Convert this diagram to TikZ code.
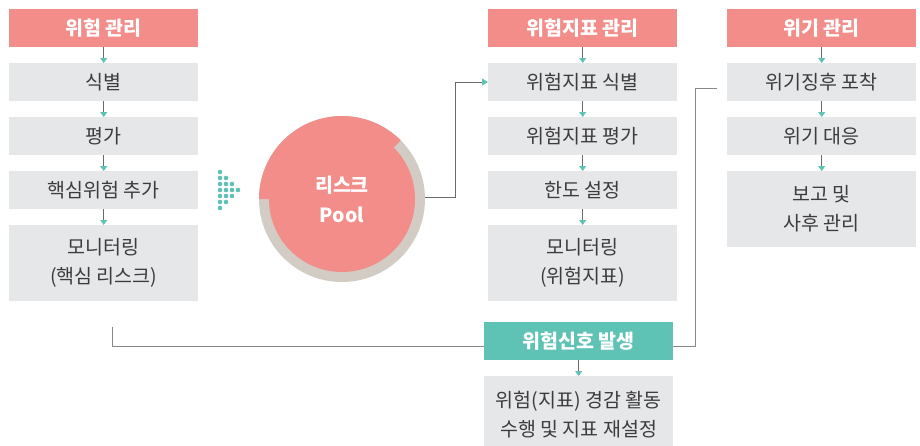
\documentclass[tikz,border=0pt]{standalone}
\usepackage{fontspec}
\newfontfamily\cjk{Noto Sans CJK KR}
\usetikzlibrary{arrows.meta}
\definecolor{hdpink}{HTML}{F28D89}
\definecolor{boxgray}{HTML}{E6E7E9}
\definecolor{tealc}{HTML}{5EC3B5}
\definecolor{ringgray}{HTML}{D2CCC4}
\definecolor{txt}{HTML}{3C3C3C}
\definecolor{linec}{HTML}{6A6A6A}
\tikzset{
  basebox/.style={anchor=north west, inner sep=0pt, minimum width=189pt, align=center,
    font=\cjk\fontsize{19.5}{29}\selectfont},
  hdbox/.style={basebox, fill=hdpink, text=white, minimum height=38pt, font=\cjk\bfseries\fontsize{19.5}{29}\selectfont},
  grbox/.style={basebox, fill=boxgray, text=txt, minimum height=38pt},
  tallbox/.style={grbox, minimum height=76pt},
  sigbox/.style={hdbox, fill=tealc},
  flow/.style={draw=linec, line width=0.8pt, -{Triangle[width=7pt,length=5pt,fill=tealc,color=tealc]}},
  conn/.style={draw=linec!80, line width=0.9pt},
  dot/.style={fill=tealc, draw=none}
}
\begin{document}
\begin{tikzpicture}[x=1pt,y=-1pt]
\useasboundingbox (0,0) rectangle (920,445);
% left column
\node[hdbox] (h1) at (9,9) {위험 관리};
\node[grbox] (a1) at (9,63) {식별};
\node[grbox] (a2) at (9,117) {평가};
\node[grbox] (a3) at (9,171) {핵심위험 추가};
\node[tallbox] (a4) at (9,225) {모니터링\\(핵심 리스크)};
\draw[flow] (h1) -- (a1);
\draw[flow] (a1) -- (a2);
\draw[flow] (a2) -- (a3);
\draw[flow] (a3) -- (a4);
% middle column
\node[hdbox] (h2) at (488,9) {위험지표 관리};
\node[grbox] (b1) at (488,63) {위험지표 식별};
\node[grbox] (b2) at (488,117) {위험지표 평가};
\node[grbox] (b3) at (488,171) {한도 설정};
\node[tallbox] (b4) at (488,225) {모니터링\\(위험지표)};
\draw[flow] (h2) -- (b1);
\draw[flow] (b1) -- (b2);
\draw[flow] (b2) -- (b3);
\draw[flow] (b3) -- (b4);
% right column
\node[hdbox] (h3) at (727,9) {위기 관리};
\node[grbox] (c1) at (727,63) {위기징후 포착};
\node[grbox] (c2) at (727,117) {위기 대응};
\node[tallbox] (c3) at (727,171) {보고 및\\사후 관리};
\draw[flow] (h3) -- (c1);
\draw[flow] (c1) -- (c2);
\draw[flow] (c2) -- (c3);
% signal
\node[sigbox] (s) at (484,322) {위험신호 발생};
\node[grbox, minimum height=76pt] (d) at (484,376) {위험(지표) 경감 활동\\수행 및 지표 재설정};
\draw[flow] (s) -- (d);
% risk pool circle
\coordinate (pc) at (342,199);
\fill[ringgray] (pc) circle[radius=83];
\fill[hdpink] (pc) circle[radius=73];
\fill[hdpink] (pc) -- ++(-45:83) arc[start angle=-45, end angle=-180, radius=83] -- cycle;
\node[circle, minimum size=166pt, inner sep=0pt, align=center, text=white,
  font=\cjk\bfseries\fontsize{19.5}{30}\selectfont] (pool) at (pc) {리스크\\Pool};
% dotted arrow
\foreach \c/\n in {0/3,1/2,2/1,3/0}{
  \foreach \r in {-\n,...,\n}{
    \fill[dot] (220+6*\c,190+6*\r) circle[radius=2.3];
  }
}
% connectors
\coordinate (p1) at (455,197);
\coordinate (p2) at (455,82);
\draw[flow, -{Triangle[width=7pt,length=6pt,fill=tealc,color=tealc]}] (pool.east |- p1) -- (p1) -- (p2) -- (b1.west |- p2);
\coordinate (q0) at (112,327);
\coordinate (q1) at (112,346);
\draw[conn] (q0) -- (q1) -- (s.west |- q1);
\coordinate (r1) at (695,346);
\coordinate (r2) at (695,88);
\coordinate (r3) at (717,88);
\draw[conn] (s.east |- r1) -- (r1) -- (r2) -- (r3);
\end{tikzpicture}
\end{document}
